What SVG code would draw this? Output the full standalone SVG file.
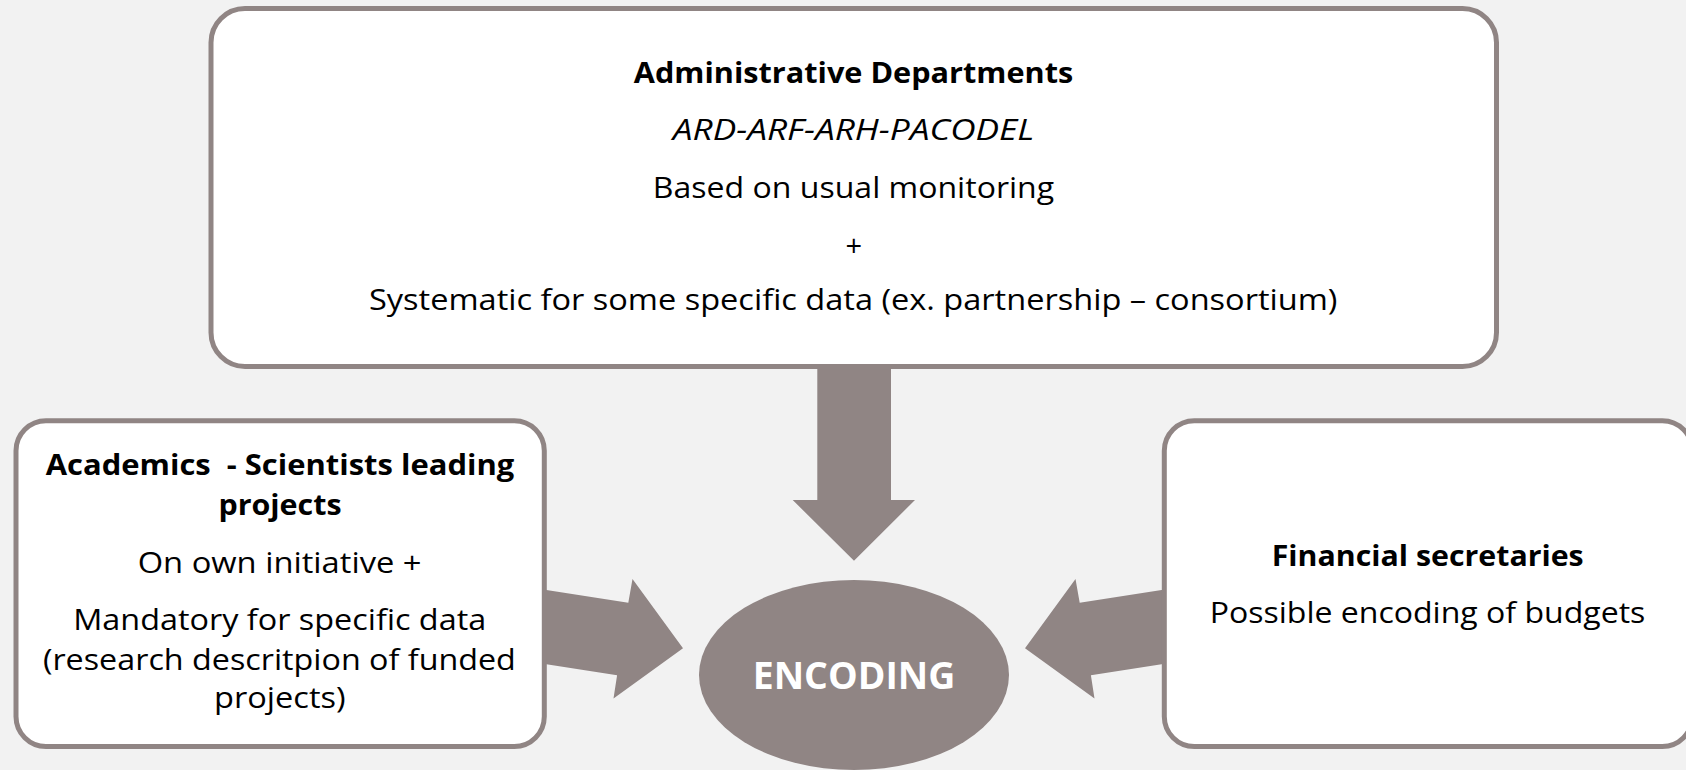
<svg xmlns="http://www.w3.org/2000/svg" width="1686" height="770" viewBox="0 0 1686 770">
  <style>
    .box { fill: #FFFFFF; stroke: #908584; stroke-width: 5; }
    .arrow { fill: #908584; }
    .t { font-family: "Open Sans", "Liberation Sans", sans-serif; font-size: 29px; fill: #000000; text-anchor: middle; }
    .b { font-weight: bold; }
    .i { font-style: italic; }
    .enc { font-family: "Open Sans", "Liberation Sans", sans-serif; font-size: 38px; font-weight: bold; fill: #FFFFFF; text-anchor: middle; }
  </style>
  <rect x="0" y="0" width="1686" height="770" fill="#F2F2F2"/>

  <g id="connectors">
    <polygon class="arrow" points="817.3,362 891,362 891,500 915,500 854,560.7 792.7,500 817.3,500"/>
    <polygon class="arrow" points="540,589 628.3,602.7 632.5,579 683,648.3 613.5,698.5 617.1,675.2 540,663.2"/>
    <polygon class="arrow" points="1168,589 1079.7,602.7 1075.5,579 1025,648.3 1094.5,698.5 1090.9,675.2 1168,663.2"/>
  </g>

  <g id="node-admin">
    <rect class="box" x="211" y="8.5" width="1285.5" height="358" rx="34" ry="34"/>
    <text class="t b" x="853.5" y="83.3" textLength="439.4" lengthAdjust="spacingAndGlyphs">Administrative Departments</text>
    <text class="t i" x="853.5" y="139.5" textLength="361.3" lengthAdjust="spacingAndGlyphs">ARD-ARF-ARH-PACODEL</text>
    <text class="t" x="853.5" y="197.7" textLength="401.3" lengthAdjust="spacingAndGlyphs">Based on usual monitoring</text>
    <text class="t" x="853.8" y="255.5">+</text>
    <text class="t" x="853.2" y="310" textLength="968.5" lengthAdjust="spacingAndGlyphs">Systematic for some specific data (ex. partnership – consortium)</text>
  </g>

  <g id="node-academics">
    <rect class="box" x="16" y="420.8" width="528.3" height="325.7" rx="30" ry="30"/>
    <text class="t b" x="280" y="475" textLength="468.6" lengthAdjust="spacingAndGlyphs" xml:space="preserve">Academics  - Scientists leading</text>
    <text class="t b" x="280" y="515" textLength="123.2" lengthAdjust="spacingAndGlyphs">projects</text>
    <text class="t" x="279.6" y="573" textLength="283.8" lengthAdjust="spacingAndGlyphs">On own initiative +</text>
    <text class="t" x="279.7" y="630" textLength="413" lengthAdjust="spacingAndGlyphs">Mandatory for specific data</text>
    <text class="t" x="279.4" y="670" textLength="473" lengthAdjust="spacingAndGlyphs">(research descritpion of funded</text>
    <text class="t" x="279.8" y="708" textLength="131.6" lengthAdjust="spacingAndGlyphs">projects)</text>
  </g>

  <g id="node-financial">
    <rect class="box" x="1164.3" y="420.8" width="528" height="325.7" rx="30" ry="30"/>
    <text class="t b" x="1427.7" y="565.7" textLength="312" lengthAdjust="spacingAndGlyphs">Financial secretaries</text>
    <text class="t" x="1427.5" y="622.7" textLength="435.7" lengthAdjust="spacingAndGlyphs">Possible encoding of budgets</text>
  </g>

  <g id="node-encoding">
    <ellipse class="arrow" cx="854" cy="675" rx="155" ry="95"/>
    <text class="enc" x="854" y="689" textLength="202.6" lengthAdjust="spacingAndGlyphs">ENCODING</text>
  </g>
</svg>
